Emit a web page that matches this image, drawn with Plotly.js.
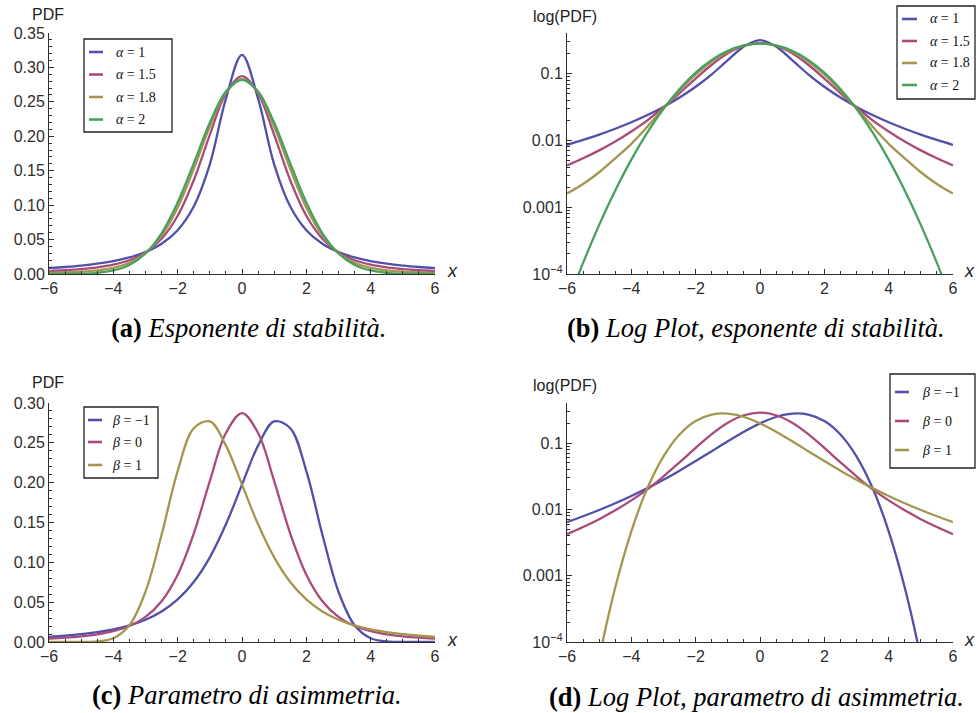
<!DOCTYPE html>
<html>
<head>
<meta charset="utf-8">
<script src="https://cdn.plot.ly/plotly-3.0.1.min.js"></script>
<style>
  html, body { margin: 0; padding: 0; background: #ffffff; }
  #chart { width: 976px; height: 713px; }
</style>
</head>
<body>
<div id="chart"></div>
<script>
// Sample points along x
const xs = [-6, -5.5, -5, -4.5, -4, -3.5, -3, -2.5, -2, -1.5, -1, -0.5, 0,
            0.5, 1, 1.5, 2, 2.5, 3, 3.5, 4, 4.5, 5, 5.5, 6];

// Symmetric stable densities (beta = 0) for four stability exponents
const pdfAlpha1 = [0.00860, 0.01019, 0.01224, 0.01498, 0.01872, 0.02402, 0.03183, 0.04390, 0.06366,
                   0.09794, 0.15915, 0.25465, 0.31831, 0.25465, 0.15915, 0.09794, 0.06366, 0.04390,
                   0.03183, 0.02402, 0.01872, 0.01498, 0.01224, 0.01019, 0.00860];
const pdfAlpha15 = [0.00422, 0.00541, 0.00711, 0.00966, 0.01364, 0.02000, 0.03144, 0.05116, 0.08455,
                    0.13614, 0.20204, 0.26230, 0.28735, 0.26230, 0.20204, 0.13614, 0.08455, 0.05116,
                    0.03144, 0.02000, 0.01364, 0.00966, 0.00711, 0.00541, 0.00422];
const pdfAlpha18 = [0.00160, 0.00223, 0.00334, 0.00540, 0.00890, 0.01611, 0.03025, 0.05577, 0.09671,
                    0.15258, 0.21419, 0.26386, 0.28307, 0.26386, 0.21419, 0.15258, 0.09671, 0.05577,
                    0.03025, 0.01611, 0.00890, 0.00540, 0.00334, 0.00223, 0.00160];
const pdfAlpha2 = [0.0000348, 0.0001465, 0.0005446, 0.0017856, 0.0051668, 0.013194, 0.029733, 0.059130,
                   0.103777, 0.160731, 0.219696, 0.265004, 0.282095, 0.265004, 0.219696, 0.160731,
                   0.103777, 0.059130, 0.029733, 0.013194, 0.0051668, 0.0017856, 0.0005446, 0.0001465,
                   0.0000348];

// Skewed stable densities with alpha = 1.5 for three skewness parameters
const pdfBetaNeg1 = [0.00642, 0.00786, 0.00976, 0.01235, 0.01590, 0.02089, 0.02800, 0.03832, 0.05338,
                     0.07527, 0.10625, 0.14770, 0.19752, 0.24652, 0.27686, 0.26837, 0.21448, 0.13462,
                     0.06307, 0.02093, 0.00467, 0.000663, 0.0000568, 0.00000278, 0.0000000735];
const pdfBeta0 = [0.00422, 0.00541, 0.00711, 0.00966, 0.01364, 0.02000, 0.03144, 0.05116, 0.08455,
                  0.13614, 0.20204, 0.26230, 0.28735, 0.26230, 0.20204, 0.13614, 0.08455, 0.05116,
                  0.03144, 0.02000, 0.01364, 0.00966, 0.00711, 0.00541, 0.00422];
const pdfBetaPos1 = [0.0000000735, 0.00000278, 0.0000568, 0.000663, 0.00467, 0.02093, 0.06307, 0.13462,
                     0.21448, 0.26837, 0.27686, 0.24652, 0.19752, 0.14770, 0.10625, 0.07527, 0.05338,
                     0.03832, 0.02800, 0.02089, 0.01590, 0.01235, 0.00976, 0.00786, 0.00642];

// Labels
const alphaLabels = ['<i>α</i> = 1', '<i>α</i> = 1.5', '<i>α</i> = 1.8', '<i>α</i> = 2'];
const betaLabels = ['<i>β</i> = −1', '<i>β</i> = 0', '<i>β</i> = 1'];
const logTickVals = [1e-4, 1e-3, 1e-2, 1e-1];
const logTickText = ['10<sup>−4</sup>', '0.001', '0.01', '0.1'];
const captions = [
  '<b>(a)</b> <i>Esponente di stabilità.</i>',
  '<b>(b)</b> <i>Log Plot, esponente di stabilità.</i>',
  '<b>(c)</b> <i>Parametro di asimmetria.</i>',
  '<b>(d)</b> <i>Log Plot, parametro di asimmetria.</i>'
];

const alphaSeries = [pdfAlpha1, pdfAlpha15, pdfAlpha18, pdfAlpha2];
const betaSeries = [pdfBetaNeg1, pdfBeta0, pdfBetaPos1];

// Styling
const W = 976, H = 713;
const colors = ['#5050aa', '#a84a7c', '#a39650', '#48a05c'];
const betaColors = [colors[0], colors[1], colors[2]];
const axisColor = '#2e2e2e';
const sans = 'Liberation Sans, Arial, sans-serif';
const serif = 'Liberation Serif, Times New Roman, serif';
const LW = 2.3;

// pixel -> paper helpers for layout placement
const fx = p => p / W;
const fy = p => 1 - p / H;

const traces = [];
alphaSeries.forEach((ys, i) => {
  traces.push({x: xs, y: ys, xaxis: 'x', yaxis: 'y', mode: 'lines',
               line: {color: colors[i], width: LW, shape: 'spline'}, hoverinfo: 'skip'});
});
alphaSeries.forEach((ys, i) => {
  traces.push({x: xs, y: ys, xaxis: 'x2', yaxis: 'y2', mode: 'lines',
               line: {color: colors[i], width: LW, shape: 'spline'}, hoverinfo: 'skip'});
});
betaSeries.forEach((ys, i) => {
  traces.push({x: xs, y: ys, xaxis: 'x3', yaxis: 'y3', mode: 'lines',
               line: {color: betaColors[i], width: LW, shape: 'spline'}, hoverinfo: 'skip'});
});
betaSeries.forEach((ys, i) => {
  traces.push({x: xs, y: ys, xaxis: 'x4', yaxis: 'y4', mode: 'lines',
               line: {color: betaColors[i], width: LW, shape: 'spline'}, hoverinfo: 'skip'});
});

const tickFont = {family: sans, size: 16, color: axisColor};

function xAxis(domain, anchor) {
  return {
    domain: domain, anchor: anchor, range: [-6, 6],
    showline: true, linecolor: axisColor, linewidth: 1,
    ticks: 'inside', ticklen: 5, tickwidth: 1, tickcolor: axisColor,
    tickmode: 'linear', tick0: 0, dtick: 2,
    minor: {tickmode: 'linear', tick0: 0, dtick: 0.5, ticks: 'inside', ticklen: 3,
            tickwidth: 1, tickcolor: axisColor, showgrid: false},
    showgrid: false, zeroline: false, tickfont: tickFont, fixedrange: true
  };
}
function linAxis(domain, anchor, top) {
  return {
    domain: domain, anchor: anchor, range: [0, top],
    showline: true, linecolor: axisColor, linewidth: 1,
    ticks: 'inside', ticklen: 5, tickwidth: 1, tickcolor: axisColor,
    tickmode: 'linear', tick0: 0, dtick: 0.05, tickformat: '.2f',
    minor: {tickmode: 'linear', tick0: 0, dtick: 0.01, ticks: 'inside', ticklen: 3,
            tickwidth: 1, tickcolor: axisColor, showgrid: false},
    showgrid: false, zeroline: false, tickfont: tickFont, fixedrange: true
  };
}
const minorLog = [];
for (let k = -4; k <= -1; k++) {
  for (let m = 2; m <= 9; m++) minorLog.push(m * Math.pow(10, k));
}
function logAxis(domain, anchor, top) {
  return {
    domain: domain, anchor: anchor, type: 'log', range: [-4, Math.log10(top)],
    showline: true, linecolor: axisColor, linewidth: 1,
    ticks: 'inside', ticklen: 5, tickwidth: 1, tickcolor: axisColor,
    tickmode: 'array', tickvals: logTickVals, ticktext: logTickText,
    minor: {tickmode: 'array', tickvals: minorLog, ticks: 'inside', ticklen: 3,
            tickwidth: 1, tickcolor: axisColor, showgrid: false},
    showgrid: false, zeroline: false, tickfont: tickFont, fixedrange: true
  };
}

const colL = [fx(49), fx(435)];
const colR = [fx(567), fx(953)];
const rowT = [fy(274), fy(33)];
const rowB = [fy(642), fy(403)];

const shapes = [];
const annotations = [];

function legend(box, rowsY, lineX, textX, labels, cols) {
  shapes.push({type: 'rect', xref: 'paper', yref: 'paper',
               x0: fx(box[0]), x1: fx(box[1]), y0: fy(box[3]), y1: fy(box[2]),
               line: {color: '#222222', width: 1.3}, fillcolor: '#ffffff', layer: 'above'});
  labels.forEach((lab, i) => {
    shapes.push({type: 'line', xref: 'paper', yref: 'paper',
                 x0: fx(lineX[0]), x1: fx(lineX[1]), y0: fy(rowsY[i]), y1: fy(rowsY[i]),
                 line: {color: cols[i], width: 2.6}, layer: 'above'});
    annotations.push({xref: 'paper', yref: 'paper', x: fx(textX), y: fy(rowsY[i]),
                      xanchor: 'left', yanchor: 'middle', showarrow: false, text: lab,
                      font: {family: serif, size: 14, color: '#111111'}});
  });
}

legend([84, 172, 39, 132], [52, 74.5, 97, 119.5], [89, 103], 114, alphaLabels, colors);
legend([897, 975, 6, 99], [19, 41, 63, 85], [902, 917], 928, alphaLabels, colors);
legend([84, 158, 407, 478], [420, 442, 465], [88, 102], 110, betaLabels, betaColors);
legend([890, 975, 374, 468], [392, 421, 450], [895, 909], 920, betaLabels, betaColors);

function label(text, px, py, size, italic) {
  annotations.push({xref: 'paper', yref: 'paper', x: fx(px), y: fy(py),
                    xanchor: 'center', yanchor: 'middle', showarrow: false,
                    text: italic ? '<i>' + text + '</i>' : text,
                    font: {family: sans, size: size, color: '#222222'}});
}
label('PDF', 47.5, 15, 16, false);
label('log(PDF)', 565, 16, 16, false);
label('PDF', 47.5, 383, 16, false);
label('log(PDF)', 565, 385, 16, false);
label('x', 452, 271, 18, true);
label('x', 969, 271, 18, true);
label('x', 452, 640, 18, true);
label('x', 969, 640, 18, true);

const capPos = [[248, 328], [756, 328], [247, 695], [756, 697]];
captions.forEach((c, i) => {
  annotations.push({xref: 'paper', yref: 'paper', x: fx(capPos[i][0]), y: fy(capPos[i][1]),
                    xanchor: 'center', yanchor: 'middle', showarrow: false, text: c,
                    font: {family: serif, size: 26.5, color: '#000000'}});
});

const layout = {
  width: W, height: H,
  margin: {l: 0, r: 0, t: 0, b: 0, pad: 0},
  paper_bgcolor: '#ffffff', plot_bgcolor: '#ffffff',
  showlegend: false,
  xaxis: xAxis(colL, 'y'),
  yaxis: linAxis(rowT, 'x', 0.35),
  xaxis2: xAxis(colR, 'y2'),
  yaxis2: logAxis(rowT, 'x2', 0.407),
  xaxis3: xAxis(colL, 'y3'),
  yaxis3: linAxis(rowB, 'x3', 0.30),
  xaxis4: xAxis(colR, 'y4'),
  yaxis4: logAxis(rowB, 'x4', 0.401),
  shapes: shapes,
  annotations: annotations
};

Plotly.newPlot('chart', traces, layout, {staticPlot: true, displayModeBar: false});
</script>
</body>
</html>
